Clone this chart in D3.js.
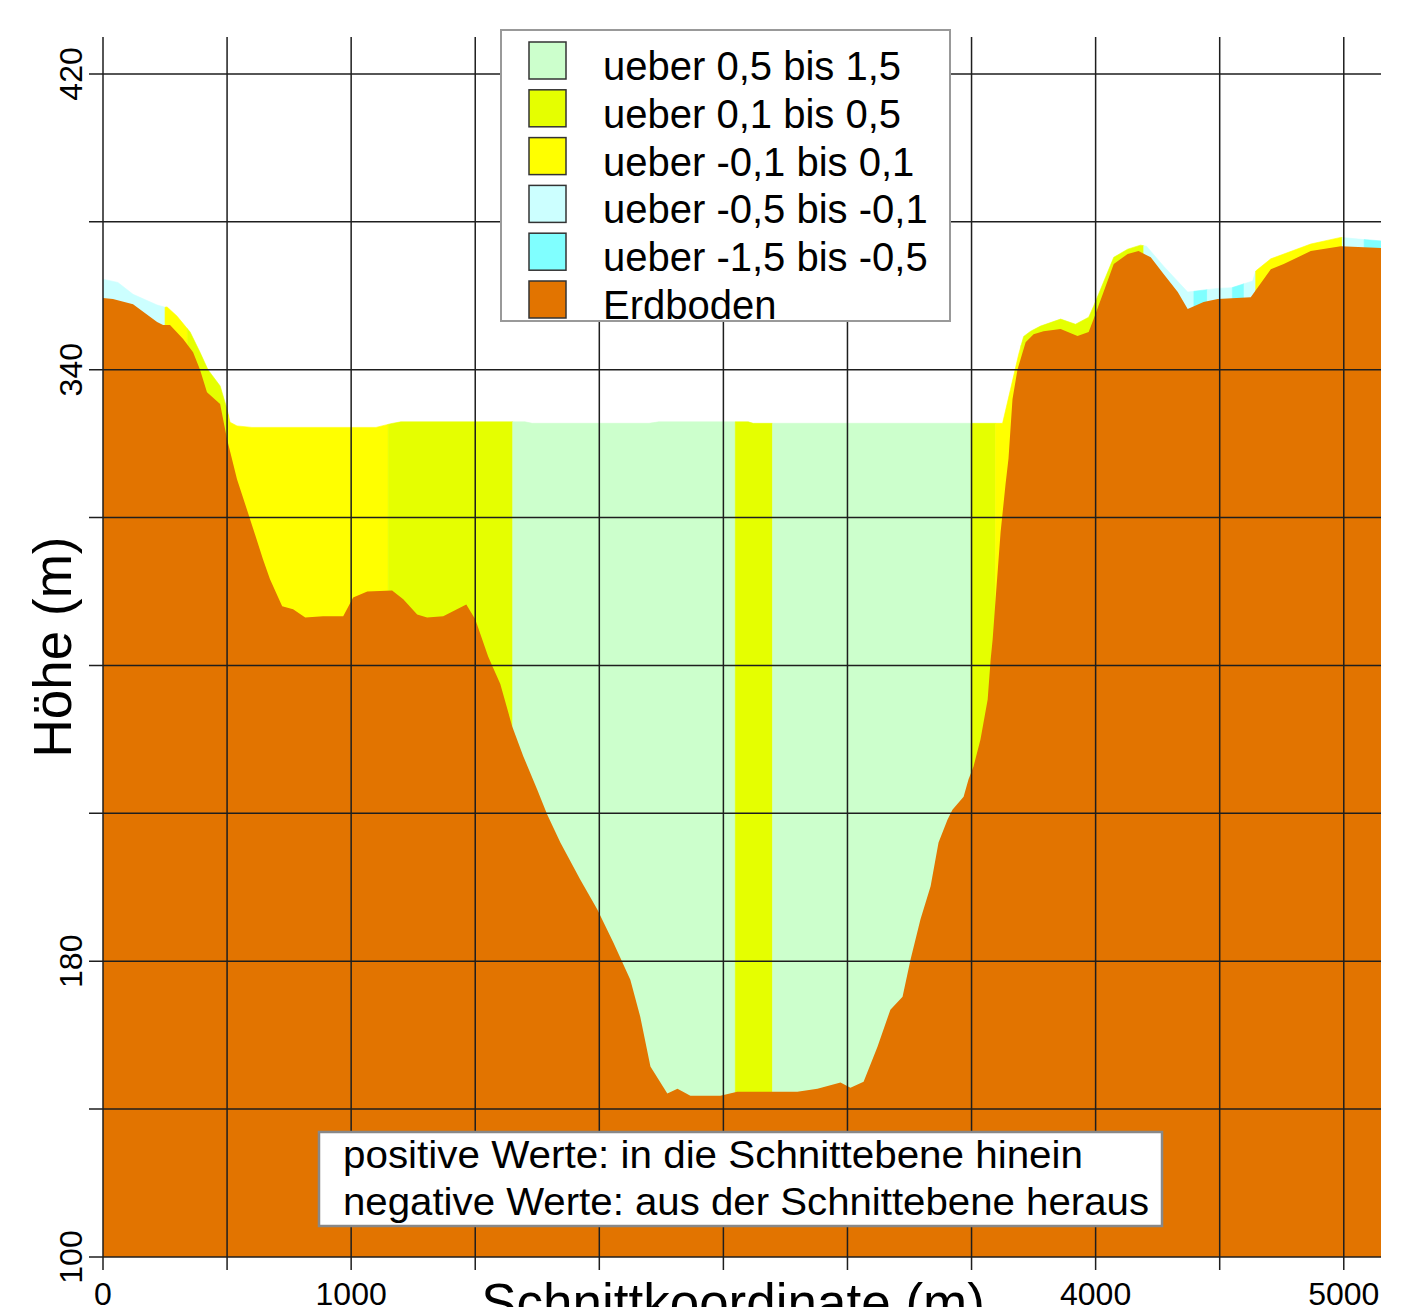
<!DOCTYPE html>
<html>
<head>
<meta charset="utf-8">
<script src="https://cdn.jsdelivr.net/npm/d3@7"></script>
<style>
	body { margin: 0; background: #fff; }
	text { font-family: "Liberation Sans", Arial, sans-serif; fill: #000; }
</style>
</head>
<body>
<svg id="chart" width="1418" height="1307"></svg>
<script>
// velocity classes (legend order) and their colours
const classLabels = ['ueber 0,5 bis 1,5', 'ueber 0,1 bis 0,5', 'ueber -0,1 bis 0,1',
	'ueber -0,5 bis -0,1', 'ueber -1,5 bis -0,5', 'Erdboden'];
const classColors = ['#ccffcc', '#e5ff00', '#ffff00', '#ccffff', '#80ffff', '#e27400'];

// ground profile [Schnittkoordinate m, Höhe m]
const ground = [
	[0, 359.4], [40, 359.1], [121, 357.7], [218, 352.9], [242, 352.1], [270, 352.1], [323, 348.3],
	[363, 344.7], [391, 340], [419, 333.9], [472, 330.7], [484, 326.6], [500, 321.2], [540, 310.4],
	[593, 299.5], [645, 288.7], [673, 283.3], [722, 276.0], [766, 275.2], [815, 273.0], [887, 273.3],
	[968, 273.3], [1008, 278.4], [1065, 280], [1165, 280.3], [1210, 277.9], [1266, 273.8], [1306, 273],
	[1371, 273.3], [1464, 276.5], [1500, 272.5], [1552, 262.4], [1601, 255], [1649, 243.5], [1694, 235.4],
	[1750, 226.4], [1790, 219.7], [1843, 212.1], [1923, 202.1], [1992, 194], [2057, 185], [2125, 175],
	[2165, 165], [2206, 151.5], [2274, 144.2], [2315, 145.5], [2367, 143.6], [2488, 143.6], [2556, 144.7],
	[2798, 144.7], [2879, 145.5], [2972, 147.2], [3012, 145.8], [3065, 147.4], [3121, 156.9], [3173, 166.9],
	[3222, 170.4], [3254, 180.4], [3294, 191.3], [3335, 200.3], [3367, 212.1], [3403, 218.3], [3423, 221],
	[3468, 224.5], [3488, 229.2], [3508, 232.7], [3536, 240], [3565, 250.8], [3577, 261.6], [3585, 267],
	[3597, 278], [3617, 296], [3637, 309], [3649, 316], [3665, 332], [3685, 340], [3718, 347.4],
	[3750, 349.6], [3790, 350.4], [3859, 351], [3927, 349.1], [3972, 350.2], [3992, 353.7], [4032, 361],
	[4073, 368.6], [4129, 371.3], [4173, 372.1], [4222, 370.4], [4274, 365.9], [4331, 361], [4371, 356.4],
	[4435, 358.3], [4492, 359.1], [4625, 359.6], [4706, 367.2], [4758, 368.6], [4867, 372.1], [4988, 373.4],
	[5081, 373.1], [5160, 372.9]
];

// water surface [Schnittkoordinate m, Höhe m]
const surface = [
	[0, 364.5], [60, 363.6], [121, 360.4], [218, 357.5], [250, 356.9], [258, 357], [298, 354.5],
	[351, 350.2], [391, 344.7], [423, 340], [472, 335.6], [500, 329.3], [512, 325.8], [540, 324.8],
	[600, 324.4], [1100, 324.4], [1160, 325.4], [1200, 325.9], [1700, 325.9], [1730, 325.5], [2200, 325.5],
	[2240, 325.9], [2600, 325.9], [2620, 325.5], [3625, 325.5], [3657, 334.7], [3690, 344.2], [3710, 349],
	[3738, 350.4], [3778, 351.8], [3859, 353.7], [3919, 352.3], [3972, 354.2], [3992, 357.2], [4073, 370.4],
	[4129, 372.6], [4181, 373.7], [4205, 373.4], [4274, 368], [4371, 361], [4430, 361.5], [4492, 362],
	[4550, 362.2], [4633, 364], [4645, 366.7], [4706, 370], [4867, 374], [4988, 375.8], [5081, 375.2],
	[5160, 374.8]
];

// velocity bands along the section [from, to, class index]
const bands = [
	[0, 250, 3], [250, 340, 2], [340, 505, 1], [505, 1149, 2], [1149, 1651, 1], [1651, 2548, 0],
	[2548, 2698, 1], [2698, 3498, 0], [3498, 3597, 1], [3597, 3700, 2], [3700, 4194, 1],
	[4194, 4396, 3], [4396, 4450, 4], [4450, 4551, 3], [4551, 4598, 4], [4598, 4645, 3],
	[4645, 4994, 2], [4994, 5082, 3], [5082, 5160, 4]
];

const xGrid = d3.range(0, 5001, 500);
const yGrid = d3.range(100, 421, 40);
const xLabels = [0, 1000, 4000, 5000];
const yLabels = [420, 340, 180, 100];

const noteLines = ['positive Werte: in die Schnittebene hinein',
	'negative Werte: aus der Schnittebene heraus'];

const plotLeft = 103, plotRight = 1381, plotTop = 37, plotBottom = 1257;

const x = d3.scaleLinear().domain([0, 5150]).range([plotLeft, plotRight]);
const y = d3.scaleLinear().domain([100, 430]).range([plotBottom, plotTop]);

const svg = d3.select('#chart');

svg.append('clipPath').attr('id', 'plotClip')
	.append('rect')
	.attr('x', plotLeft).attr('y', plotTop)
	.attr('width', plotRight - plotLeft).attr('height', plotBottom - plotTop);

const plot = svg.append('g').attr('clip-path', 'url(#plotClip)');

// linear lookup of the water surface
const bis = d3.bisector(d => d[0]).left;
const surfaceAt = v => {
	const i = Math.max(1, Math.min(surface.length - 1, bis(surface, v)));
	const a = surface[i - 1], b = surface[i];
	return a[1] + (b[1] - a[1]) * (v - a[0]) / (b[0] - a[0]);
};

const profileArea = d3.area()
	.x(d => x(d[0]))
	.y0(y(100))
	.y1(d => y(d[1]));

bands.forEach(([x0, x1, c]) => {
	const pts = [[x0, surfaceAt(x0)]]
		.concat(surface.filter(p => p[0] > x0 && p[0] < x1))
		.concat([[x1, surfaceAt(x1)]]);
	plot.append('path')
		.attr('d', profileArea(pts))
		.attr('fill', classColors[c])
		.attr('stroke', classColors[c])
		.attr('stroke-width', 0.6);
});

// Erdboden
plot.append('path')
	.attr('d', profileArea(ground))
	.attr('fill', classColors[5]);

// grid
const gridColor = '#1e1e1e';
svg.append('g').selectAll('line')
	.data(xGrid).join('line')
	.attr('x1', d => x(d)).attr('x2', d => x(d))
	.attr('y1', plotTop).attr('y2', 1270)
	.attr('stroke', gridColor).attr('stroke-width', 1.5);

svg.append('g').selectAll('line')
	.data(yGrid).join('line')
	.attr('x1', 89).attr('x2', plotRight)
	.attr('y1', d => y(d)).attr('y2', d => y(d))
	.attr('stroke', gridColor).attr('stroke-width', 1.5);

// tick labels
svg.append('g').selectAll('text')
	.data(xLabels).join('text')
	.attr('x', d => x(d)).attr('y', 1305)
	.attr('text-anchor', 'middle')
	.style('font-size', '32px')
	.text(d => d);

svg.append('g').selectAll('text')
	.data(yLabels).join('text')
	.attr('transform', d => `translate(82,${y(d)}) rotate(-90)`)
	.attr('text-anchor', 'middle')
	.style('font-size', '32px')
	.text(d => d);

// axis titles
svg.append('text')
	.attr('transform', 'translate(71,647) rotate(-90)')
	.attr('text-anchor', 'middle')
	.style('font-size', '53px')
	.text('Höhe (m)');

svg.append('text')
	.attr('x', 733).attr('y', 1321)
	.attr('text-anchor', 'middle')
	.style('font-size', '53px')
	.text('Schnittkoordinate (m)');

// legend
const legend = svg.append('g');
legend.append('rect')
	.attr('x', 501).attr('y', 30)
	.attr('width', 449).attr('height', 291)
	.attr('fill', '#fff').attr('stroke', '#999').attr('stroke-width', 2);

const rows = legend.selectAll('g.row')
	.data(classLabels).join('g')
	.attr('class', 'row')
	.attr('transform', (_, i) => `translate(0,${i * 47.8})`);

rows.append('rect')
	.attr('x', 529).attr('y', 42)
	.attr('width', 37).attr('height', 37)
	.attr('fill', (_, i) => classColors[i])
	.attr('stroke', '#333').attr('stroke-width', 1.5);

rows.append('text')
	.attr('x', 603).attr('y', 80)
	.style('font-size', '40px')
	.text(d => d);

// note box
const note = svg.append('g');
note.append('rect')
	.attr('x', 319).attr('y', 1132)
	.attr('width', 843).attr('height', 94)
	.attr('fill', '#fff').attr('stroke', '#888').attr('stroke-width', 2.5);

note.selectAll('text')
	.data(noteLines).join('text')
	.attr('x', 343).attr('y', (_, i) => 1168 + i * 47)
	.attr('textLength', (_, i) => i ? 806 : 740)
	.attr('lengthAdjust', 'spacingAndGlyphs')
	.style('font-size', '38px')
	.text(d => d);
</script>
</body>
</html>
